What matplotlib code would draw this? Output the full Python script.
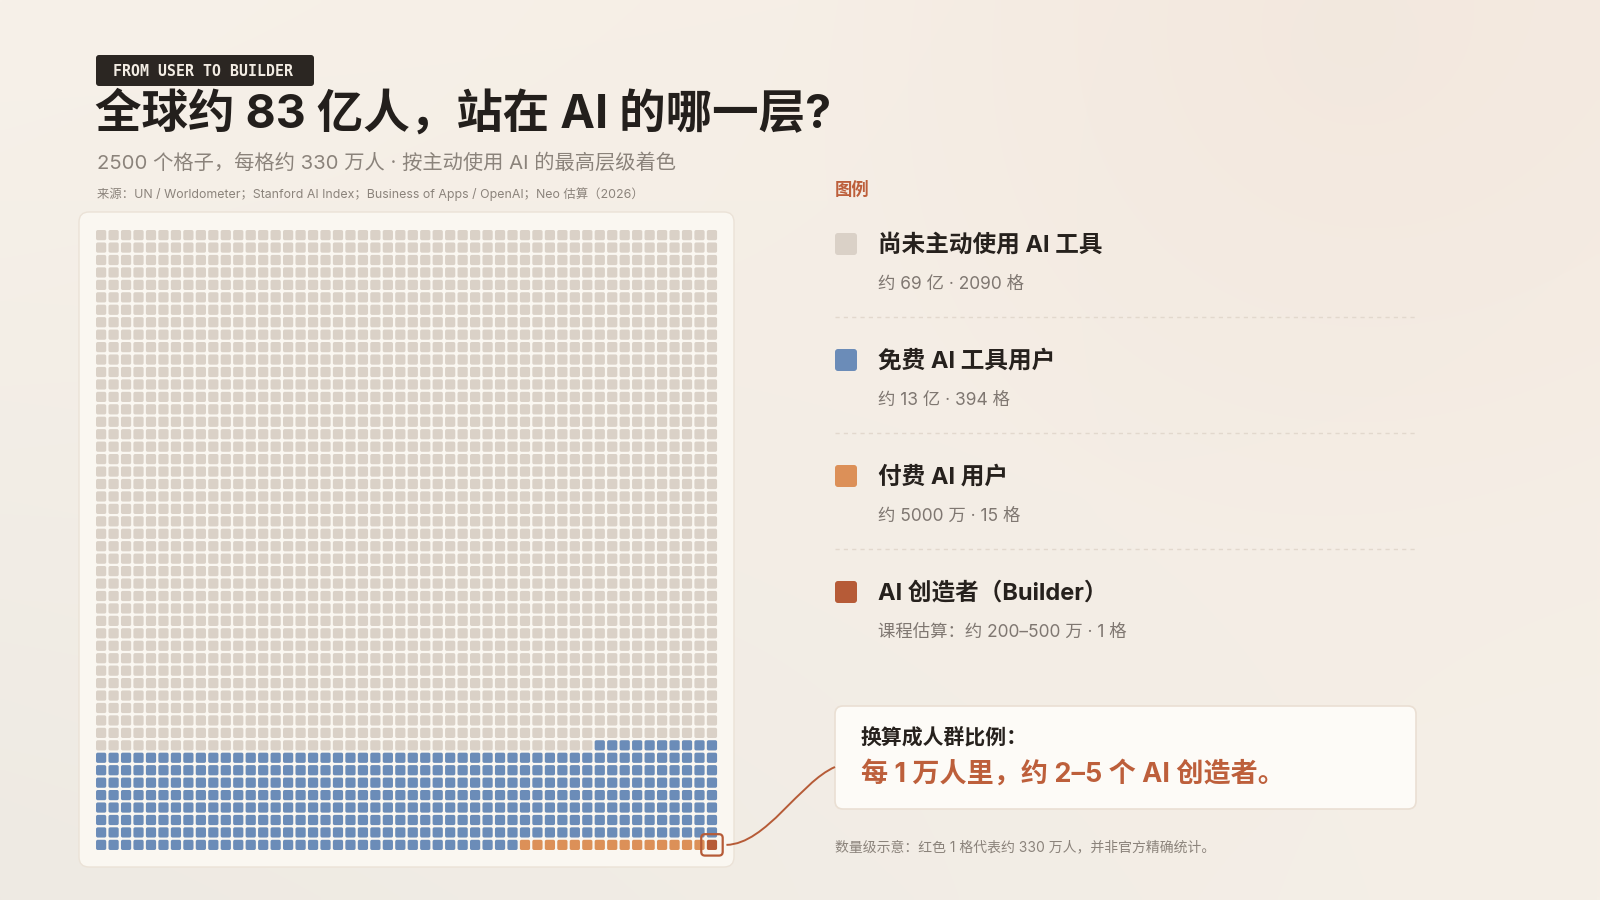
import numpy as np
import matplotlib.pyplot as plt
from matplotlib.patches import FancyBboxPatch, PathPatch
from matplotlib.path import Path

plt.rcParams['font.family'] = ['Inter', 'Noto Sans CJK SC', 'DejaVu Sans']

# 数据：每格约 330 万人，共 2500 格
categories = ['尚未主动使用 AI 工具', '免费 AI 工具用户', '付费 AI 用户', 'AI 创造者（Builder）']
cell_counts = [2090, 394, 15, 1]
details = ['约 69 亿 · 2090 格', '约 13 亿 · 394 格', '约 5000 万 · 15 格',
           '课程估算：约 200–500 万 · 1 格']
colors = ['#dad1c7', '#6b8cb8', '#dc9058', '#b65b37']
grid_cols = 50
grid_rows = 50

W, H = 1600, 900
fig = plt.figure(figsize=(16, 9), dpi=100)

# background axes in pixel coords
bg = fig.add_axes([0, 0, 1, 1])
bg.set_xlim(0, W)
bg.set_ylim(H, 0)
bg.axis('off')

# soft warm gradient + pinkish glow top right
tl = np.array([247, 241, 233]) / 255
tr = np.array([245, 236, 227]) / 255
bl = np.array([238, 234, 227]) / 255
br = np.array([245, 239, 231]) / 255
v, u = np.mgrid[0:1:180j, 0:1:320j]
grad = (tl * ((1 - u) * (1 - v))[..., None] + tr * (u * (1 - v))[..., None]
        + bl * ((1 - u) * v)[..., None] + br * (u * v)[..., None])
d = np.sqrt(((u - 1350 / W) * 1.6) ** 2 + ((v - 30 / H) * 0.9) ** 2)
glow = np.clip(1 - d / 0.55, 0, 1)[..., None]
grad = grad * (1 - 0.6 * glow) + np.array([241, 229, 219]) / 255 * 0.6 * glow
bg.imshow(grad, extent=[0, W, H, 0], aspect='auto', zorder=0, interpolation='bilinear')

ink = '#26211d'
muted = '#8b837b'
accent = '#bd5f3b'

# tag
bg.add_patch(FancyBboxPatch((96, 55), 218, 31, boxstyle='round,pad=0,rounding_size=3',
                            fc='#2b2622', ec='none', zorder=2))
bg.text(113, 72, 'FROM USER TO BUILDER', family='DejaVu Sans Mono', weight='bold',
        size=10.7, color='#f2ece3', va='center', zorder=3)

# titles
bg.text(95, 114, '全球约 83 亿人，站在 AI 的哪一层?', size=33.5, weight='bold', color='#231f1c', va='center')
bg.text(97, 163, '2500 个格子，每格约 330 万人 · 按主动使用 AI 的最高层级着色', size=14.6, color=muted, va='center')
bg.text(97, 194, '来源：UN / Worldometer；Stanford AI Index；Business of Apps / OpenAI；Neo 估算（2026）',
        size=8.9, color=muted, va='center')

# panel behind the waffle
bg.add_patch(FancyBboxPatch((79, 212), 655, 655, boxstyle='round,pad=0,rounding_size=10',
                            fc='#faf7f1', ec='#ebe2d7', lw=1, zorder=1))

# waffle grid
gx = fig.add_axes([94.9 / W, (H - 851.1) / H, 623.3 / W, 622.2 / H])
gx.set_xlim(-0.5, grid_cols - 0.5)
gx.set_ylim(-0.5, grid_rows - 0.5)
gx.axis('off')

s = 0.82
idx = 0
cell_pos = {}
for k in reversed(range(len(categories))):
    for _ in range(cell_counts[k]):
        row = idx // grid_cols
        col = grid_cols - 1 - idx % grid_cols
        gx.add_patch(FancyBboxPatch((col - s / 2, row - s / 2), s, s,
                                    boxstyle='round,pad=0,rounding_size=0.14',
                                    fc=colors[k], ec='none'))
        cell_pos.setdefault(k, (col, row))
        idx += 1

# highlight builder cell
bc, br_ = cell_pos[3]
hs = 0.86
gx.add_patch(FancyBboxPatch((bc - hs, br_ - hs), 2 * hs, 2 * hs,
                            boxstyle='round,pad=0,rounding_size=0.3',
                            fc='none', ec=colors[3], lw=1.6, clip_on=False))

# S-curve from the builder cell to the callout box
start = bg.transData.inverted().transform(gx.transData.transform((bc + hs + 0.3, br_)))
end = (835, 767)
verts = [start, (start[0] + 40, start[1] - 1), (end[0] - 35, end[1] + 15), end]
bg.add_patch(PathPatch(Path(verts, [Path.MOVETO, Path.CURVE4, Path.CURVE4, Path.CURVE4]),
                       fc='none', ec=colors[3], lw=1.4, zorder=3))

# legend
bg.text(835, 190, '图例', size=12.5, weight='bold', color=accent, va='center')
for i, (lab, det, c) in enumerate(zip(categories, details, colors)):
    y = 244 + 116 * i
    bg.add_patch(FancyBboxPatch((835, y - 11), 22, 22, boxstyle='round,pad=0,rounding_size=3',
                                fc=c, ec='none'))
    bg.text(878, y + 1, lab, size=17, weight='bold', color=ink, va='center')
    bg.text(878, y + 40, det, size=12.5, color='#7f7771', va='center')
    if i < len(categories) - 1:
        bg.plot([835, 1416], [y + 73, y + 73], ls=(0, (3, 3)), color='#e2d8cd', lw=1)

# callout
bg.add_patch(FancyBboxPatch((835, 706), 581, 103, boxstyle='round,pad=0,rounding_size=8',
                            fc='#fdfbf7', ec='#eadfd3', lw=1.2, zorder=2))
bg.text(861, 737, '换算成人群比例：', size=15, weight='bold', color=ink, va='center', zorder=3)
bg.text(861, 774, '每 1 万人里，约 2–5 个 AI 创造者。', size=19.5, weight='bold', color=accent,
        va='center', zorder=3)

bg.text(835, 847, '数量级示意：红色 1 格代表约 330 万人，并非官方精确统计。', size=10, color=muted, va='center')

fig.savefig('out.png', dpi=100)
